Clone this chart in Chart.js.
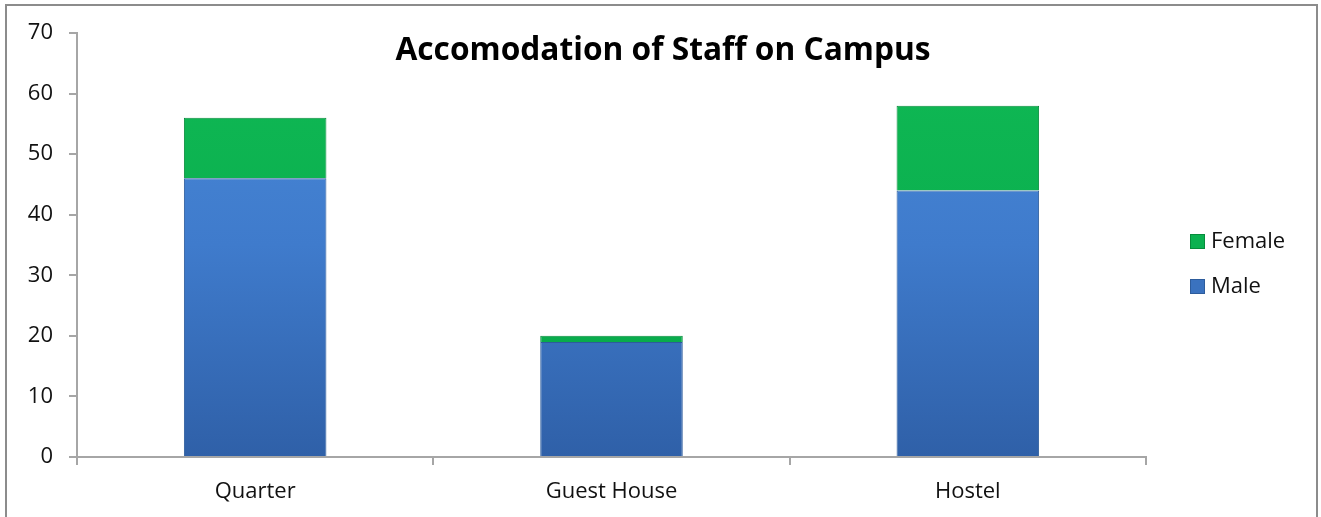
<!DOCTYPE html>
<html>
<head>
<meta charset="utf-8">
<script src="https://cdn.jsdelivr.net/npm/chart.js@4.4.0/dist/chart.umd.min.js"></script>
<style>
html,body{margin:0;padding:0;background:#fff;}
#wrap{width:1321px;height:517px;position:relative;}
</style>
</head>
<body>
<div id="wrap"><canvas id="c" width="1321" height="517"></canvas></div>
<script>
const categories = ["Quarter", "Guest House", "Hostel"];
const maleValues = [46, 19, 44];
const femaleValues = [10, 1, 14];
const yTicks = [0, 10, 20, 30, 40, 50, 60, 70];
const chartTitle = "Accomodation of Staff on Campus";

const FONT = "'Open Sans', Lato, sans-serif";

function blueGrad(ctx) {
  const ca = ctx.chart.chartArea;
  if (!ca) return '#3d78c8';
  const g = ctx.chart.ctx.createLinearGradient(0, ca.top, 0, ca.bottom);
  g.addColorStop(0, '#4a8ad8');
  g.addColorStop(0.5, '#3f7bcc');
  g.addColorStop(1, '#2f60a8');
  return g;
}
function greenGrad(ctx) {
  const ca = ctx.chart.chartArea;
  if (!ca) return '#0bb150';
  const g = ctx.chart.ctx.createLinearGradient(0, ca.top, 0, ca.bottom);
  g.addColorStop(0, '#10b955');
  g.addColorStop(1, '#06a748');
  return g;
}

const framePlugin = {
  id: 'frame',
  beforeDraw(chart) {
    const c = chart.ctx;
    c.save();
    c.fillStyle = '#fff';
    c.fillRect(0, 0, chart.width, chart.height);
    c.strokeStyle = '#8c8c8c';
    c.lineWidth = 2;
    c.beginPath();
    c.moveTo(6, 520); c.lineTo(6, 5); c.lineTo(1317, 5); c.lineTo(1317, 520);
    c.stroke();
    c.restore();
  },
  afterDraw(chart) {
    const c = chart.ctx;
    c.save();
    // title, sized to span ~535px like the reference
    c.fillStyle = '#000';
    let fs = 28;
    c.font = "bold " + fs + "px " + FONT;
    fs = fs * 535 / c.measureText(chartTitle).width;
    c.font = "bold " + fs.toFixed(1) + "px " + FONT;
    c.textAlign = 'center';
    c.textBaseline = 'middle';
    c.fillText(chartTitle, 663, 51);
    // legend (reverse order like reference)
    const ds = chart.data.datasets.slice().reverse();
    c.font = "22px " + FONT;
    c.textAlign = 'left';
    ds.forEach((d, i) => {
      const y = 241 + i * 45;
      c.fillStyle = d.legendColor;
      c.fillRect(1190, y - 7, 15, 15);
      c.strokeStyle = d.legendBorder;
      c.lineWidth = 1;
      c.strokeRect(1190.5, y - 6.5, 14, 14);
      c.fillStyle = '#111';
      c.fillText(d.label, 1211, y + 1);
    });
    c.restore();
  }
};

new Chart(document.getElementById('c'), {
  type: 'bar',
  data: {
    labels: categories,
    datasets: [
      { label: 'Male', data: maleValues, backgroundColor: blueGrad, borderColor: '#2d5c9c', borderWidth: 1,
        legendColor: '#3a72bf', legendBorder: '#2d5c9c', barPercentage: 0.4, categoryPercentage: 1 },
      { label: 'Female', data: femaleValues, backgroundColor: greenGrad, borderColor: '#078c3c', borderWidth: 1,
        legendColor: '#0bb150', legendBorder: '#078c3c', barPercentage: 0.4, categoryPercentage: 1 }
    ]
  },
  options: {
    responsive: false,
    animation: false,
    layout: { padding: { left: 0, right: 175, top: 33, bottom: 0 } },
    plugins: { legend: { display: false }, title: { display: false }, tooltip: { enabled: false } },
    scales: {
      x: {
        stacked: true,
        afterFit(axis) { axis.height = 60; },
        grid: { display: true, drawOnChartArea: false, drawTicks: true, tickLength: 8, offset: true, color: '#a6a6a6', lineWidth: 2 },
        border: { display: true, color: '#a6a6a6', width: 2 },
        ticks: { color: '#111', font: { family: FONT, size: 22 }, padding: 14 }
      },
      y: {
        stacked: true,
        min: 0, max: 70,
        afterBuildTicks(axis) { axis.ticks = yTicks.map(v => ({ value: v })); },
        afterFit(axis) { axis.width = 77; },
        grid: { display: true, drawOnChartArea: false, drawTicks: true, tickLength: 8, color: '#a6a6a6', lineWidth: 2 },
        border: { display: true, color: '#a6a6a6', width: 2 },
        ticks: { color: '#111', font: { family: FONT, size: 22 }, padding: 16 }
      }
    }
  },
  plugins: [framePlugin]
});
</script>
</body>
</html>
